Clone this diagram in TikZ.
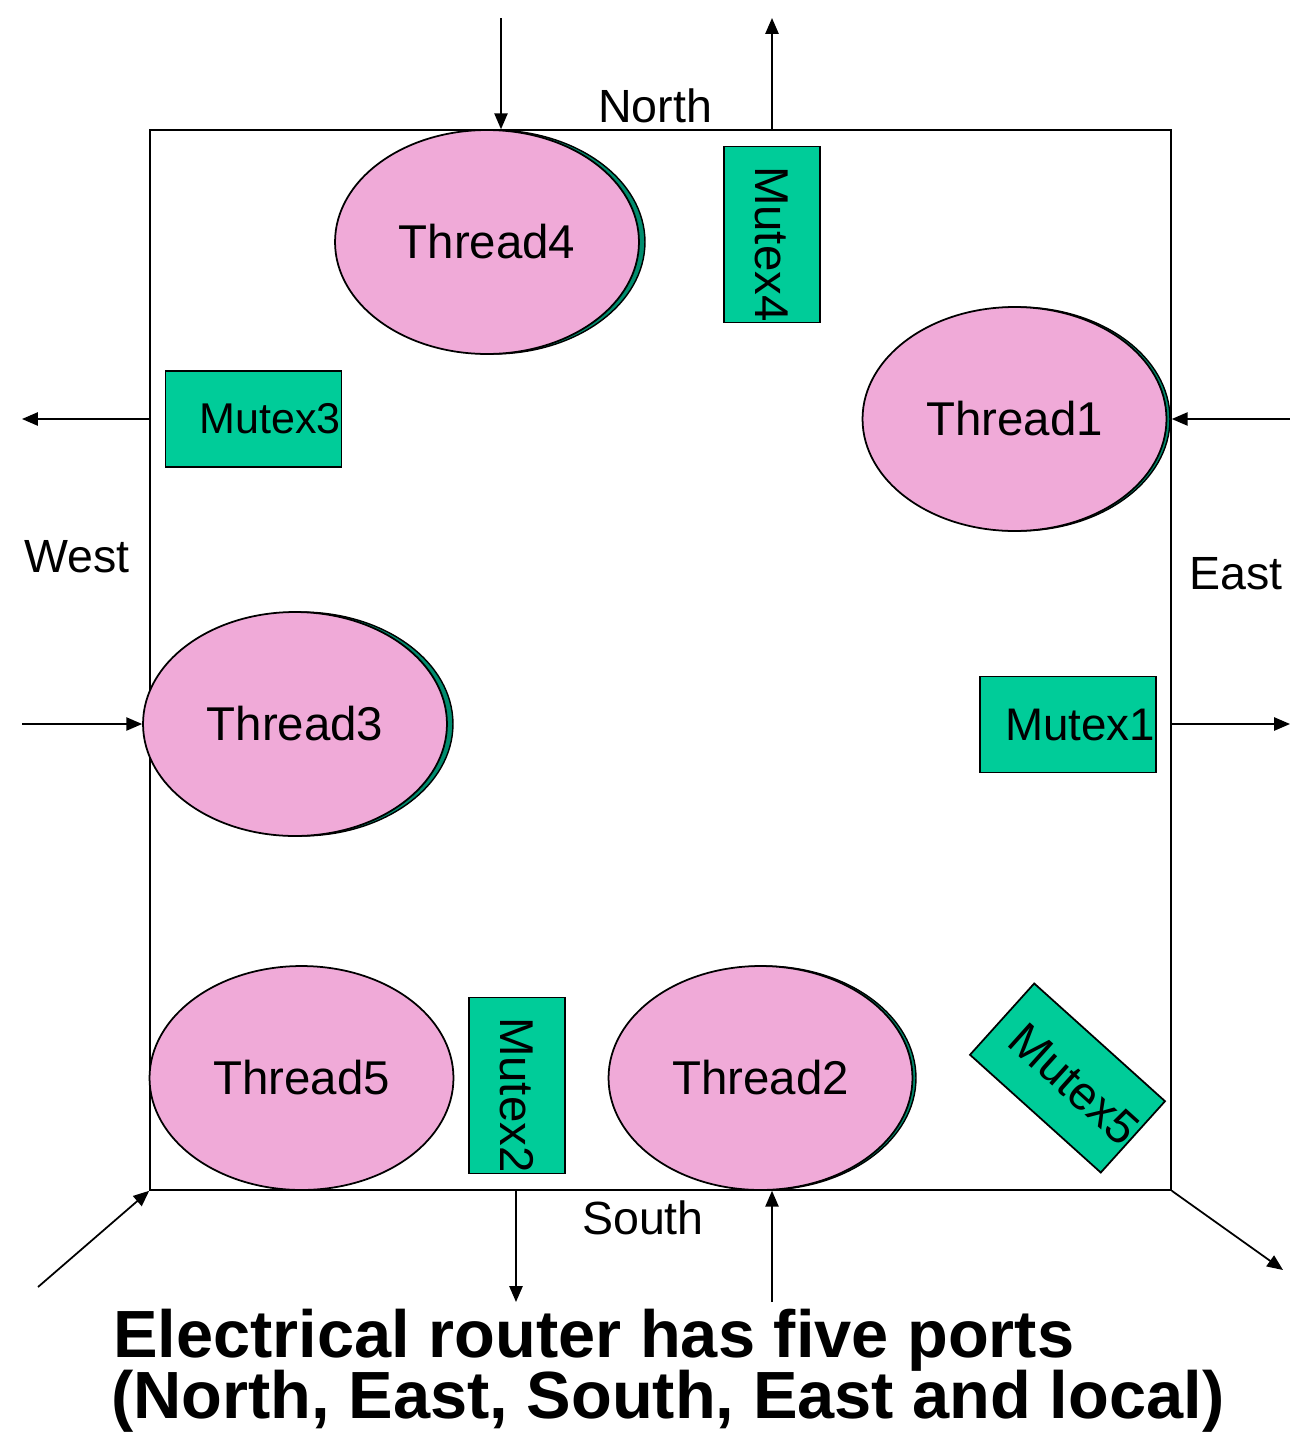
\documentclass[tikz,border=0pt]{standalone}
\usepackage{fontspec}
\setmainfont{Liberation Sans}
\usetikzlibrary{shapes.geometric,arrows.meta}
\definecolor{pinkfill}{RGB}{240,170,216}
\definecolor{mutexgreen}{RGB}{0,204,153}
\definecolor{shadowteal}{RGB}{0,140,110}
\begin{document}
\begin{tikzpicture}[x=0.02cm,y=-0.02cm,
  thread/.style={ellipse, draw=black, fill=pinkfill, line width=1pt,
    minimum width=6.08cm, minimum height=4.48cm, inner sep=0pt,
    font=\fontsize{27}{32}\selectfont},
  tshadow/.style={ellipse, draw=black, fill=shadowteal, line width=0.8pt,
    minimum width=6.08cm, minimum height=4.48cm, inner sep=0pt},
  mutex/.style={rectangle, draw=black, fill=mutexgreen, line width=1pt,
    minimum width=3.52cm, minimum height=1.92cm, inner xsep=0.5pt, inner ysep=0pt,
    text width=3.485cm, align=right},
  lbl/.style={font=\fontsize{26.5}{32}\selectfont, anchor=base},
  titletext/.style={anchor=base west, font=\fontsize{38}{44}\selectfont\bfseries, inner sep=0pt},
  port/.style={line width=1pt, -{Triangle[length=9pt,width=7.5pt]}},
]
\fill[white] (0,0) rectangle (1290,1440);
\useasboundingbox (0,0) rectangle (1290,1440);

% router box
\node[draw=black, line width=1pt, minimum width=20.42cm, minimum height=21.2cm, inner sep=0pt] (router) at (660.5,660) {};

% threads
\node[tshadow] (T4s) at (493,242) {};
\node[thread] (T4) at (487,242) {Thread4};
\node[tshadow] (T1s) at (1018,419) {};
\node[thread] (T1) at (1014.5,419) {Thread1};
\node[tshadow] (T3s) at (301,724) {};
\node[thread] (T3) at (295,724) {Thread3};
\node[thread] (T5) at (301.5,1078) {Thread5};
\node[tshadow] (T2s) at (764,1078) {};
\node[thread] (T2) at (760.5,1078) {Thread2};

% mutexes
\node[mutex, font=\fontsize{27}{31}\selectfont, rotate=-90] (M4) at (772,234.5) {Mutex4};
\node[mutex, font=\fontsize{24.5}{28}\selectfont] (M3) at (253.5,419) {Mutex3};
\node[mutex, font=\fontsize{26}{30}\selectfont] (M1) at (1068,724.5) {Mutex1};
\node[mutex, font=\fontsize{27}{31}\selectfont, rotate=-90] (M2) at (517,1085.5) {Mutex2};
\node[mutex, font=\fontsize{27}{31}\selectfont, rotate=-42] (M5) at (1067.5,1078) {Mutex5};

% labels
\node[lbl] (north) at (655,122) {North};
\node[lbl] (west) at (77,572) {West};
\node[lbl] (east) at (1236,589) {East};
\node[lbl] (south) at (643,1234) {South};

% free ends
\coordinate (nin) at (501,18);
\coordinate (nout) at (772,18);
\coordinate (ein) at (1290,419);
\coordinate (eout) at (1290,724);
\coordinate (wout) at (22,419);
\coordinate (win) at (22,724);
\coordinate (sout) at (516,1302);
\coordinate (sin) at (772,1302);
\coordinate (lin) at (38,1287);
\coordinate (lout) at (1283,1270);

% ports
\draw[port] (nin) -- (router.north -| nin);
\draw[port] (router.north -| nout) -- (nout);
\draw[port] (ein) -- (router.east |- ein);
\draw[port] (router.east |- eout) -- (eout);
\draw[port] (router.west |- wout) -- (wout);
\draw[port] (win) -- (T3.west);
\draw[port] (router.south -| sout) -- (sout);
\draw[port] (sin) -- (router.south -| sin);
\draw[port] (lin) -- (router.south west);
\draw[port] (router.south east) -- (lout);

% title
\node[titletext] (title1) at (113,1357) {Electrical router has five ports};
\node[titletext] (title2) at (111,1418) {(North, East, South, East and local)};
\end{tikzpicture}
\end{document}
